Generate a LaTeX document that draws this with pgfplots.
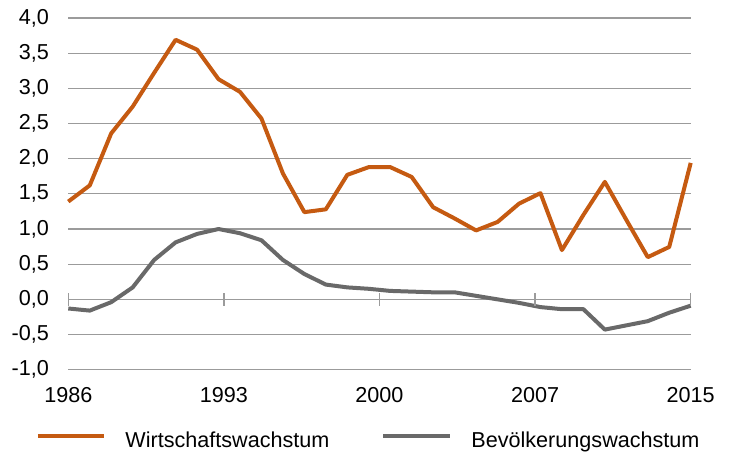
\documentclass[border=0pt]{standalone}
\usepackage{pgfplots}
\pgfplotsset{compat=1.18}
\usepackage{fontspec}
\setmainfont{Liberation Sans}
\definecolor{orangeline}{RGB}{197,90,17}
\definecolor{grayline}{RGB}{105,105,105}
\definecolor{gridgray}{RGB}{155,155,155}

\begin{document}
\begin{tikzpicture}
  \useasboundingbox (-34.15pt,-44.65pt) rectangle (330.35pt,184.85pt);
  \begin{axis}[
      scale only axis,
      width=311.2pt, height=175.85pt,
      xmin=1986, xmax=2015,
      ymin=-1, ymax=4,
      clip=false,
      axis line style={draw=none},
      major tick length=0pt,
      xtick={1986,1993.25,2000.5,2007.75,2015},
      xticklabels={1986,1993,2000,2007,2015},
      ytick={-1,-0.5,0,0.5,1,1.5,2,2.5,3,3.5,4},
      ymajorgrids,
      grid style={draw=gridgray, line width=0.65pt},
      tick label style={font=\fontsize{10.8}{13}\selectfont},
      yticklabel style={xshift=-6.2pt},
      xticklabel style={yshift=-5.5pt},
      /pgf/number format/assume math mode=true,
      yticklabel={\pgfmathprintnumber[fixed, fixed zerofill, precision=1, use comma, assume math mode=true]{\tick}},
    ]
    % Wirtschaftswachstum
    \addplot[orangeline, line width=2pt, line join=round] coordinates {
      (1986,1.39) (1987,1.62) (1988,2.36) (1989,2.74) (1990,3.22)
      (1991,3.69) (1992,3.55) (1993,3.13) (1994,2.95) (1995,2.57)
      (1996,1.79) (1997,1.24) (1998,1.28) (1999,1.77) (2000,1.88)
      (2001,1.88) (2002,1.74) (2003,1.31) (2004,1.15) (2005,0.98)
      (2006,1.10) (2007,1.36) (2008,1.51) (2009,0.70) (2010,1.20)
      (2011,1.67) (2012,1.13) (2013,0.60) (2014,0.745) (2015,1.94)
    };
    % Bevölkerungswachstum
    \addplot[grayline, line width=2pt, line join=round] coordinates {
      (1986,-0.13) (1987,-0.16) (1988,-0.04) (1989,0.17) (1990,0.56)
      (1991,0.81) (1992,0.93) (1993,1.00) (1994,0.94) (1995,0.84)
      (1996,0.56) (1997,0.36) (1998,0.21) (1999,0.17) (2000,0.15)
      (2001,0.12) (2002,0.11) (2003,0.10) (2004,0.10) (2005,0.05)
      (2006,0.00) (2007,-0.05) (2008,-0.11) (2009,-0.14) (2010,-0.14)
      (2011,-0.43) (2012,-0.37) (2013,-0.31) (2014,-0.19) (2015,-0.09)
    };
    % Teilstriche auf der Nulllinie
    \pgfplotsinvokeforeach{1986,1993.25,2000.5,2007.75,2015}{
      \draw[gridgray, line width=0.65pt] ([yshift=-3.15pt]axis cs:#1,0) -- ([yshift=3.15pt]axis cs:#1,0);
    }
  \end{axis}
  % Legende
  \draw[orangeline, line width=2pt] (-15.15pt,-33.4pt) -- (17.85pt,-33.4pt);
  \node[anchor=base west, inner sep=0pt, font=\fontsize{10.8}{13}\selectfont]
    at (28.35pt,-39.15pt) {Wirtschaftswachstum};
  \draw[grayline, line width=2pt] (157.35pt,-33.4pt) -- (190.85pt,-33.4pt);
  \node[anchor=base west, inner sep=0pt, font=\fontsize{10.8}{13}\selectfont]
    at (201.35pt,-39.15pt) {Bevölkerungswachstum};
\end{tikzpicture}
\end{document}
